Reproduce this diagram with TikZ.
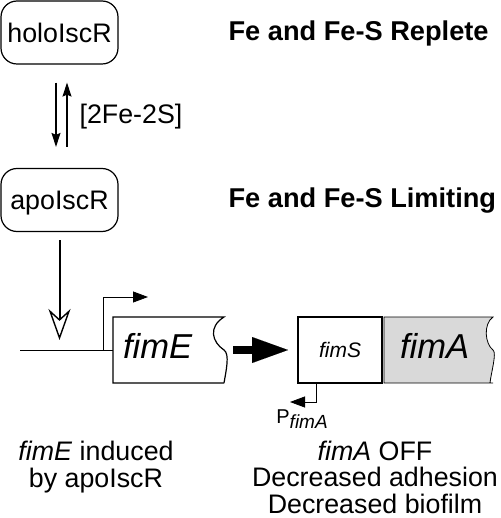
\documentclass[tikz,border=0pt]{standalone}
\usepackage{fontspec}
\setmainfont{Liberation Sans}
\usetikzlibrary{arrows.meta, positioning, backgrounds}
\tikzset{every picture/.style={line width=0.6pt}}

\begin{document}
\begin{tikzpicture}[x=0.5pt,y=-0.5pt,
        protein/.style={draw, rounded corners=8pt, minimum width=58.5pt, minimum height=31.5pt, inner sep=0pt, text height=9.6pt, text depth=0pt, font=\fontsize{13.4}{14}\selectfont},
        cond/.style={anchor=base west, inner sep=0pt, font=\fontsize{13.6}{14}\selectfont\bfseries},
        gene/.style={minimum height=33pt, inner ysep=0pt, outer sep=0pt, text height=12.4pt, text depth=4pt, align=left, font=\fontsize{17.3}{18}\selectfont\itshape},
        note/.style={anchor=base, align=center, inner sep=0pt, font=\fontsize{13.4}{13.25}\selectfont},
        swap/.style={-{Stealth[length=7pt,width=4.5pt,inset=1pt]}},
        prom/.style={-{Triangle[length=7.5pt,width=5.5pt]}}]
    \useasboundingbox (0,0) rectangle (500,518);

    % regulator
    \node[protein] (holo) at (59.5,32.5) {holoIscR};
    \node[protein] (apo) at (59.5,200) {apoIscR};
    \node[cond] (replete) at (228,41) {Fe and Fe-S Replete};
    \node[cond] (limiting) at (228,207) {Fe and Fe-S Limiting};

    \draw[swap, shorten <=9pt, shorten >=10.5pt] ([xshift=-1.75pt]holo.south) -- ([xshift=-1.75pt]apo.north);
    \draw[swap, shorten <=10.5pt, shorten >=9pt] ([xshift=3.75pt]apo.north) -- node[right=6pt, inner sep=0pt, font=\fontsize{13.4}{14}\selectfont] (fes) {[2Fe-2S]} ([xshift=3.75pt]holo.south);

    % genes
    \node[gene, text width=45.5pt, inner xsep=5pt] (fimE) at (168.5,350) {fimE};
    \node[gene, draw, text width=42pt, inner xsep=0pt, align=center, text height=7.5pt, text depth=0pt, font=\fontsize{10.5}{12}\selectfont\itshape] (fimS) at (340,350) {fimS};
    \node[gene, text width=38.5pt, inner xsep=8pt] (fimA) at (438.5,350) {fimA};

    \draw (fimE.south east) -- (fimE.south west) -- (fimE.north west) -- (fimE.north east)
        .. controls +(-16,10) and +(-12,-8) .. (fimE.east)
        .. controls +(6,4) and +(2,-12) .. (fimE.south east);
    \begin{pgfonlayer}{background}
        \draw[fill=gray!30] (fimA.south east) -- (fimA.south west) -- (fimA.north west) -- (fimA.north east)
            .. controls +(-10,7) and +(-8,-6) .. (fimA.east)
            .. controls +(4,3) and +(1,-10) .. ([xshift=-1.5pt]fimA.south east) -- cycle;
    \end{pgfonlayer}

    % promoters and DNA
    \coordinate (dnaL) at (20,350);
    \coordinate (site) at (apo.south |- dnaL);
    \coordinate (pE) at (103,350);
    \coordinate (pEtip) at (148,297);
    \coordinate (pA) at ([xshift=-12pt]fimS.south);
    \coordinate (pAtip) at (290,402);

    \draw (dnaL) -- (fimE.west);
    \draw[prom] (pE) |- (pEtip);
    \draw[prom] (pA) |- (pAtip);
    \node[anchor=base west, inner sep=0pt] (pfimA) at (276,423) {\fontsize{10}{12}\selectfont P\raisebox{-2.5pt}{\fontsize{9.5}{11}\selectfont\itshape fimA}};

    \draw[line width=1pt, -{Stealth[open, fill=white, length=15.5pt, width=11pt, inset=5pt, line width=0.7pt]}, shorten <=4pt, shorten >=5pt] (apo.south) -- (site);
    \draw[line width=4pt, -{Triangle[length=18pt, width=13pt, line width=0.01pt]}, shorten <=4.5pt, shorten >=5pt] (fimE.east) -- (fimS.west);

    % outcomes
    \node[note] (induced) at (96,487) {\textit{fimE} induced\\by apoIscR};
    \node[note] (off) at (375,513) {\textit{fimA} OFF\\Decreased adhesion\\Decreased biofilm};
\end{tikzpicture}
\end{document}
